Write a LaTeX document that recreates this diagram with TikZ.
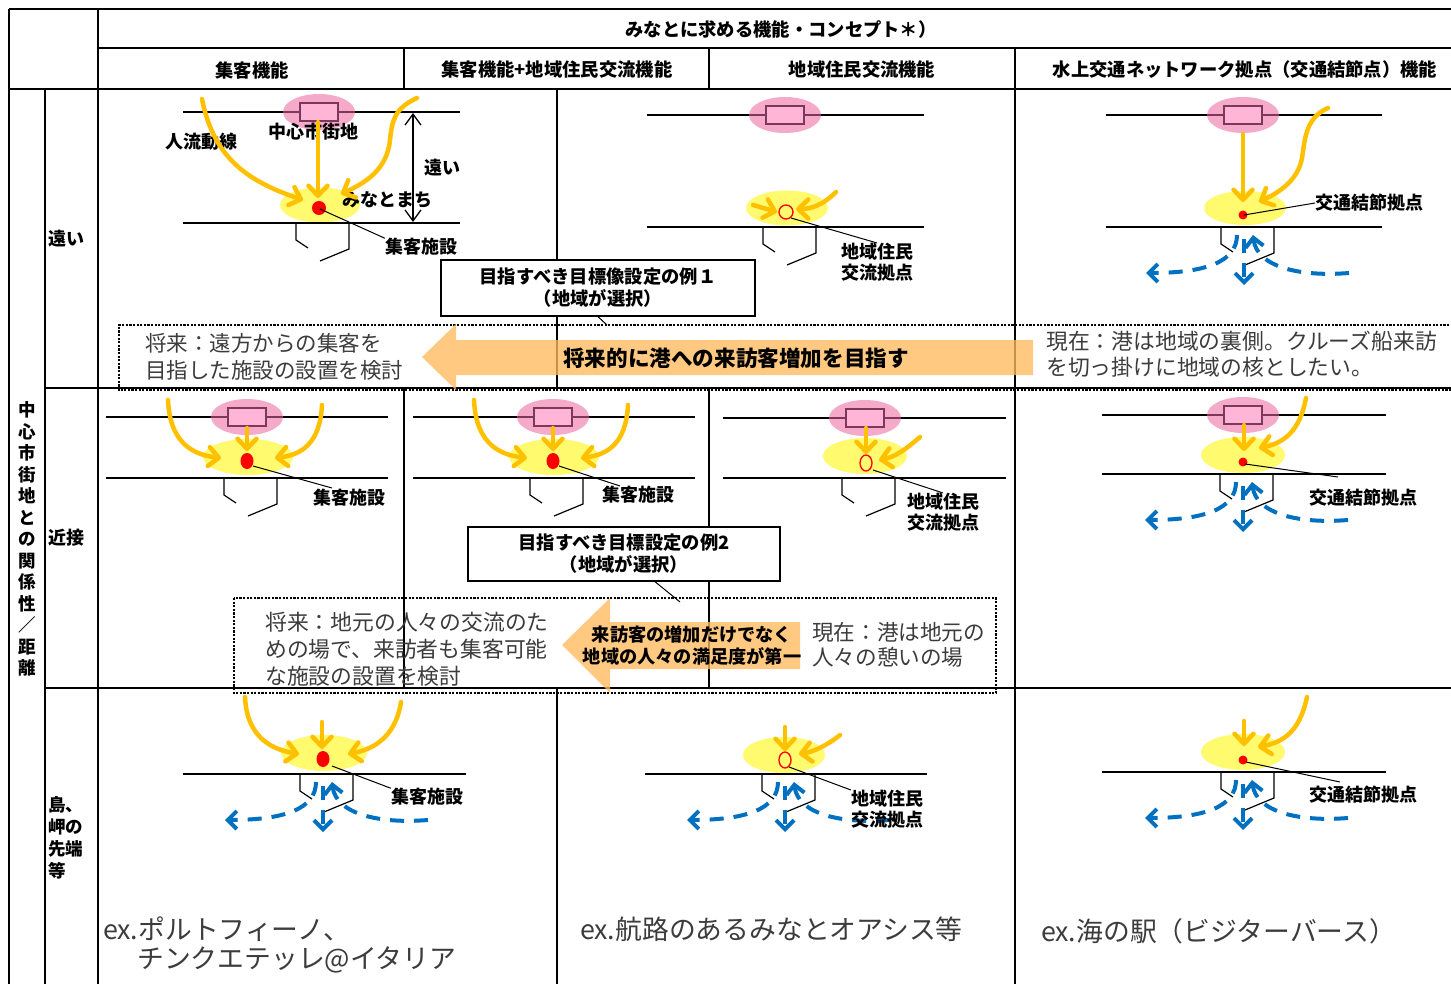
\documentclass[tikz,border=0pt]{standalone}
\usepackage{fontspec}
\setmainfont{Noto Sans CJK JP}
\usetikzlibrary{arrows.meta}
\definecolor{pinkE}{RGB}{244,170,200}
\definecolor{pinkR}{RGB}{255,182,214}
\definecolor{pinkB}{RGB}{125,55,90}
\definecolor{yel}{RGB}{255,250,110}
\definecolor{org}{RGB}{255,192,0}
\definecolor{blu}{RGB}{0,112,192}
\definecolor{bigar}{RGB}{255,187,95}
\definecolor{txtg}{RGB}{60,60,60}
\newcommand\mkroad[4]{%
 \draw[roadline] (#3,#2) -- (#4,#2);
 \fill[pinkE] (#1,#2) ellipse [x radius=36pt, y radius=18pt];
 \draw[pinkB, line width=1.2pt] (#1-36,#2) -- (#1+36,#2);
 \draw[pinkB, line width=1.2pt, fill=pinkR] (#1-19,#2-9) rectangle (#1+19,#2+9);
}
\newcommand\mkpier[2]{%
 \draw[pierline] (#1-24,#2) -- (#1-24,#2+17) -- (#1-12,#2+25);
 \draw[pierline] (#1+29,#2) -- (#1+29,#2+26) -- (#1,#2+38);
}
\newcommand\mkharbor[2]{%
 \draw[bluedash] (#1+104,#2+46) .. controls (#1+55,#2+50) and (#1+12,#2+40) .. (#1+8,#2+8);
 \draw[bluedash] (#1-8,#2+8) .. controls (#1-8,#2+35) and (#1-40,#2+46) .. (#1-99,#2+46);
 \draw[bluedash] (#1-1,#2+12) -- (#1-1,#2+58);
}
\begin{document}
\begin{tikzpicture}[x=1pt,y=-1pt,
  grid/.style={line width=1.7pt, black},
  roadline/.style={line width=1.2pt, black},
  pierline/.style={line width=1.2pt, black},
  leader/.style={line width=1pt, black},
  oarrow/.style={draw=org, line width=4.5pt, line cap=round, -{Straight Barb[length=10pt,width=19pt,round]}},
  bluedash/.style={draw=blu, line width=4pt, dash pattern=on 14pt off 10pt, -{Straight Barb[length=9pt,width=18pt]}},
  dotbox/.style={line width=2.8pt, dash pattern=on 2.2pt off 1.4pt},
  bigarrow/.style={fill=bigar, fill opacity=0.78},
  lbl/.style={font=\bfseries\fontsize{18}{20.5}\selectfont, inner sep=0pt, align=center},
  hdr/.style={font=\bfseries\fontsize{18.3}{21}\selectfont, inner sep=0pt, align=center},
  bigtxt/.style={font=\fontsize{21.5}{27}\selectfont, text=txtg, inner sep=0pt, align=left, anchor=west},
  extxt/.style={font=\fontsize{26.8}{32}\selectfont, text=txtg, inner sep=0pt, anchor=west},
  callout/.style={draw, line width=1.4pt, fill=white, inner sep=0pt, font=\bfseries\fontsize{18.3}{22}\selectfont, align=center},
 ]
\useasboundingbox (0,0) rectangle (1451,984);
\fill[white] (0,0) rectangle (1451,984);

% ---------- grid ----------
\draw[grid] (9,9) -- (1451,9);
\draw[grid] (9,9) -- (9,984);
\draw[grid] (98,9) -- (98,984);
\draw[grid] (45,89) -- (45,984);
\draw[grid] (98,48) -- (1451,48);
\draw[grid] (9,89) -- (1451,89);
\draw[grid] (45,388) -- (1451,388);
\draw[grid] (45,688) -- (1451,688);
\draw[grid] (404,48) -- (404,89);
\draw[grid] (709,48) -- (709,89);
\draw[grid] (1015,48) -- (1015,984);
\draw[grid] (557,89) -- (557,388);
\draw[grid] (404,388) -- (404,688);
\draw[grid] (709,388) -- (709,688);
\draw[grid] (557,688) -- (557,984);

% ---------- headers ----------
\node[hdr] (title) at (781,30) {みなとに求める機能・コンセプト＊）};
\node[hdr] (hA) at (252,70) {集客機能};
\node[hdr] (hB) at (557,70) {集客機能+地域住民交流機能};
\node[hdr] (hC) at (862,70) {地域住民交流機能};
\node[hdr] (hD) at (1245,70) {水上交通ネットワーク拠点（交通結節点）機能};
\node[font=\bfseries\fontsize{17.5}{21.5}\selectfont, inner sep=0pt, align=center] (side) at (27,539)
  {中\\心\\市\\街\\地\\と\\の\\関\\係\\性\\／\\距\\離};
\node[lbl, anchor=west] (far) at (48,239) {遠い};
\node[lbl, anchor=west] (near) at (48,538) {近接};
\node[lbl, anchor=west, align=left, font=\bfseries\fontsize{17.5}{22}\selectfont] (island) at (48,838) {島、\\岬の\\先端\\等};

% ---------- dotted boxes and big arrows ----------
\draw[dotbox] (1460,325) -- (119,325) -- (119,390) -- (1460,390);
\draw[dotbox] (234,598) rectangle (996,693);
\fill[bigarrow] (422,357) -- (456,324) -- (456,340) -- (1033,340) -- (1033,375) -- (456,375) -- (456,390) -- cycle;
\fill[bigarrow] (562,645) -- (610,598) -- (610,622) -- (800,622) -- (800,669) -- (610,669) -- (610,693) -- cycle;
\node[font=\bfseries\fontsize{21.6}{24}\selectfont, inner sep=0pt] (goal1) at (736,358) {将来的に港への来訪客増加を目指す};
\node[font=\bfseries\fontsize{18.2}{22}\selectfont, inner sep=0pt, align=center] (goal2) at (692,646) {来訪客の増加だけでなく\\地域の人々の満足度が第一};
\node[bigtxt] (fut1) at (145,357) {将来：遠方からの集客を\\目指した施設の設置を検討};
\node[bigtxt, font=\fontsize{21.8}{26}\selectfont] (now1) at (1046,354) {現在：港は地域の裏側。クルーズ船来訪\\を切っ掛けに地域の核としたい。};
\node[bigtxt, font=\fontsize{21.8}{27}\selectfont] (fut2) at (265,649) {将来：地元の人々の交流のた\\めの場で、来訪者も集客可能\\な施設の設置を検討};
\node[bigtxt, font=\fontsize{21.6}{25}\selectfont] (now2) at (812,645) {現在：港は地元の\\人々の憩いの場};

% ---------- callouts ----------
\node[callout, minimum width=314pt, minimum height=56pt] (co1) at (598,288) {目指すべき目標像設定の例１\\（地域が選択）};
\coordinate (p1) at (607,325);
\draw[leader] (co1.south) -- (p1);
\node[callout, minimum width=312pt, minimum height=54pt] (co2) at (624,554) {目指すべき目標設定の例2\\（地域が選択）};
\coordinate (p2) at (680,602);
\draw[leader] ([xshift=31pt]co2.south) -- (p2);

% ---------- row 1, col A ----------
\mkroad{319}{112}{183}{460}
\fill[yel] (320,205) ellipse [x radius=40pt, y radius=17.5pt];
\draw[roadline] (183,223) -- (460,223);
\mkpier{320}{223}
\node[lbl] (jinryu) at (201,142) {人流動線};
\node[lbl] (chushin) at (313,132) {中心市街地};
\node[lbl] (tooi) at (442,168) {遠い};
\node[lbl] (minato) at (387,200) {みなとまち};
\node[lbl] (shuA1) at (421,247) {集客施設};
\draw[oarrow] (318,122) -- (318,198);
\draw[oarrow] (202,99) .. controls (214,160) and (250,182) .. (303,200);
\draw[oarrow] (417,98) .. controls (395,108) and (392,120) .. (390,140) .. controls (387,170) and (365,183) .. (341,194);
\fill[red] (319,208) circle [radius=7pt];
\coordinate (dA1) at (320,209);
\draw[leader] (dA1) -- (shuA1.north west);
\draw[line width=1.3pt, {Straight Barb[length=11pt,width=16pt]}-{Straight Barb[length=11pt,width=16pt]}] (413,113) -- (413,222);

% ---------- row 1, col B ----------
\mkroad{785}{115}{647}{924}
\fill[yel] (787,208) ellipse [x radius=41pt, y radius=17.5pt];
\draw[roadline] (647,227) -- (924,227);
\mkpier{787}{227}
\node[lbl] (chiikiB1) at (877,262) {地域住民\\交流拠点};
\draw[oarrow] (753,205) -- (777,212);
\draw[oarrow] (836,192) .. controls (822,206) and (810,209) .. (796,209);
\draw[red, line width=1.3pt] (786,212) circle [radius=7pt];
\coordinate (dB1) at (791,218);
\draw[leader] (dB1) -- (chiikiB1.north);

% ---------- row 1, col D ----------
\mkroad{1243}{115}{1106}{1382}
\fill[yel] (1245,208) ellipse [x radius=41pt, y radius=17pt];
\draw[roadline] (1106,227) -- (1382,227);
\mkpier{1245}{227}
\mkharbor{1245}{227}
\node[lbl, anchor=west] (kotsuD1) at (1315,203) {交通結節拠点};
\draw[oarrow] (1243,134) -- (1243,202);
\draw[oarrow] (1328,108) .. controls (1305,118) and (1305,140) .. (1302,158) .. controls (1298,180) and (1280,192) .. (1259,202);
\fill[red] (1243,215) circle [radius=4.5pt];
\coordinate (dD1) at (1244,215);
\draw[leader] (dD1) -- (kotsuD1.west);

% ---------- row 2, col A ----------
\mkroad{247}{417}{106}{388}
\fill[yel] (248,457) ellipse [x radius=45pt, y radius=18pt];
\draw[roadline] (106,478) -- (388,478);
\mkpier{248}{478}
\node[lbl] (shuA2) at (349,498) {集客施設};
\draw[oarrow] (247,428) -- (247,451);
\draw[oarrow] (168,400) .. controls (170,445) and (195,455) .. (221,458);
\draw[oarrow] (322,405) .. controls (320,445) and (300,455) .. (275,458);
\fill[red] (247,461) ellipse [x radius=6.5pt, y radius=8pt];
\coordinate (dA2) at (253,466);
\coordinate (eA2) at (332,488);
\draw[leader] (dA2) -- (eA2);

% ---------- row 2, col B ----------
\mkroad{553}{417}{413}{695}
\fill[yel] (554,457) ellipse [x radius=45pt, y radius=18pt];
\draw[roadline] (413,478) -- (695,478);
\mkpier{554}{478}
\node[lbl] (shuB2) at (638,495) {集客施設};
\draw[oarrow] (553,428) -- (553,451);
\draw[oarrow] (474,400) .. controls (476,445) and (501,455) .. (527,458);
\draw[oarrow] (628,405) .. controls (626,445) and (606,455) .. (581,458);
\fill[red] (553,461) ellipse [x radius=6.5pt, y radius=8pt];
\coordinate (dB2) at (559,466);
\coordinate (eB2) at (620,486);
\draw[leader] (dB2) -- (eB2);

% ---------- row 2, col C ----------
\mkroad{865}{418}{723}{1006}
\fill[yel] (865,456) ellipse [x radius=42pt, y radius=18pt];
\draw[roadline] (723,478) -- (1006,478);
\mkpier{866}{478}
\node[lbl] (chiikiC2) at (943,512) {地域住民\\交流拠点};
\draw[oarrow] (866,428) -- (866,454);
\draw[oarrow] (920,437) .. controls (905,450) and (895,457) .. (879,460);
\draw[red, line width=1.3pt] (866,463) ellipse [x radius=6pt, y radius=8pt];
\coordinate (dC2) at (873,470);
\draw[leader] (dC2) -- (chiikiC2.north);

% ---------- row 2, col D ----------
\mkroad{1243}{415}{1102}{1386}
\fill[yel] (1243,455) ellipse [x radius=42pt, y radius=18pt];
\draw[roadline] (1102,474) -- (1386,474);
\mkpier{1244}{474}
\mkharbor{1244}{474}
\node[lbl] (kotsuD2) at (1363,498) {交通結節拠点};
\draw[oarrow] (1244,425) -- (1244,451);
\draw[oarrow] (1306,398) .. controls (1300,430) and (1285,443) .. (1259,448);
\fill[red] (1243,462) circle [radius=4.5pt];
\coordinate (dD2) at (1245,464);
\coordinate (eD2) at (1338,477);
\draw[leader] (dD2) -- (eD2);

% ---------- row 3, col A ----------
\fill[yel] (324,753) ellipse [x radius=43pt, y radius=18pt];
\draw[roadline] (183,774) -- (466,774);
\mkpier{324}{774}
\mkharbor{324}{774}
\node[lbl] (shuA3) at (427,797) {集客施設};
\draw[oarrow] (322,722) -- (322,749);
\draw[oarrow] (245,697) .. controls (247,740) and (275,750) .. (299,754);
\draw[oarrow] (401,702) .. controls (395,740) and (370,750) .. (348,754);
\fill[red] (323,759) ellipse [x radius=6.5pt, y radius=8pt];
\coordinate (dA3) at (332,766);
\draw[leader] (dA3) -- (shuA3.north west);

% ---------- row 3, col B ----------
\fill[yel] (784,755) ellipse [x radius=41pt, y radius=18pt];
\draw[roadline] (645,774) -- (927,774);
\mkpier{786}{774}
\mkharbor{786}{774}
\node[lbl] (chiikiB3) at (887,809) {地域住民\\交流拠点};
\draw[oarrow] (785,727) -- (785,751);
\draw[oarrow] (840,735) .. controls (825,747) and (812,752) .. (799,754);
\draw[red, line width=1.3pt] (785,760) ellipse [x radius=6pt, y radius=8pt];
\coordinate (dB3) at (789,767);
\draw[leader] (dB3) -- (chiikiB3.north west);

% ---------- row 3, col D ----------
\fill[yel] (1243,752) ellipse [x radius=42pt, y radius=18pt];
\draw[roadline] (1102,772) -- (1386,772);
\mkpier{1245}{772}
\mkharbor{1244}{772}
\node[lbl] (kotsuD3) at (1363,795) {交通結節拠点};
\draw[oarrow] (1244,721) -- (1244,746);
\draw[oarrow] (1307,697) .. controls (1300,730) and (1285,742) .. (1258,747);
\fill[red] (1243,760) circle [radius=4.5pt];
\coordinate (dD3) at (1246,762);
\coordinate (eD3) at (1340,782);
\draw[leader] (dD3) -- (eD3);

% ---------- examples ----------
\node[extxt] (exA) at (103,929) {ex.ポルトフィーノ、};
\node[extxt] (exA2) at (137,960) {チンクエテッレ@イタリア};
\node[extxt] (exB) at (580,929) {ex.航路のあるみなとオアシス等};
\node[extxt] (exD) at (1041,931) {ex.海の駅（ビジターバース）};
\end{tikzpicture}
\end{document}
